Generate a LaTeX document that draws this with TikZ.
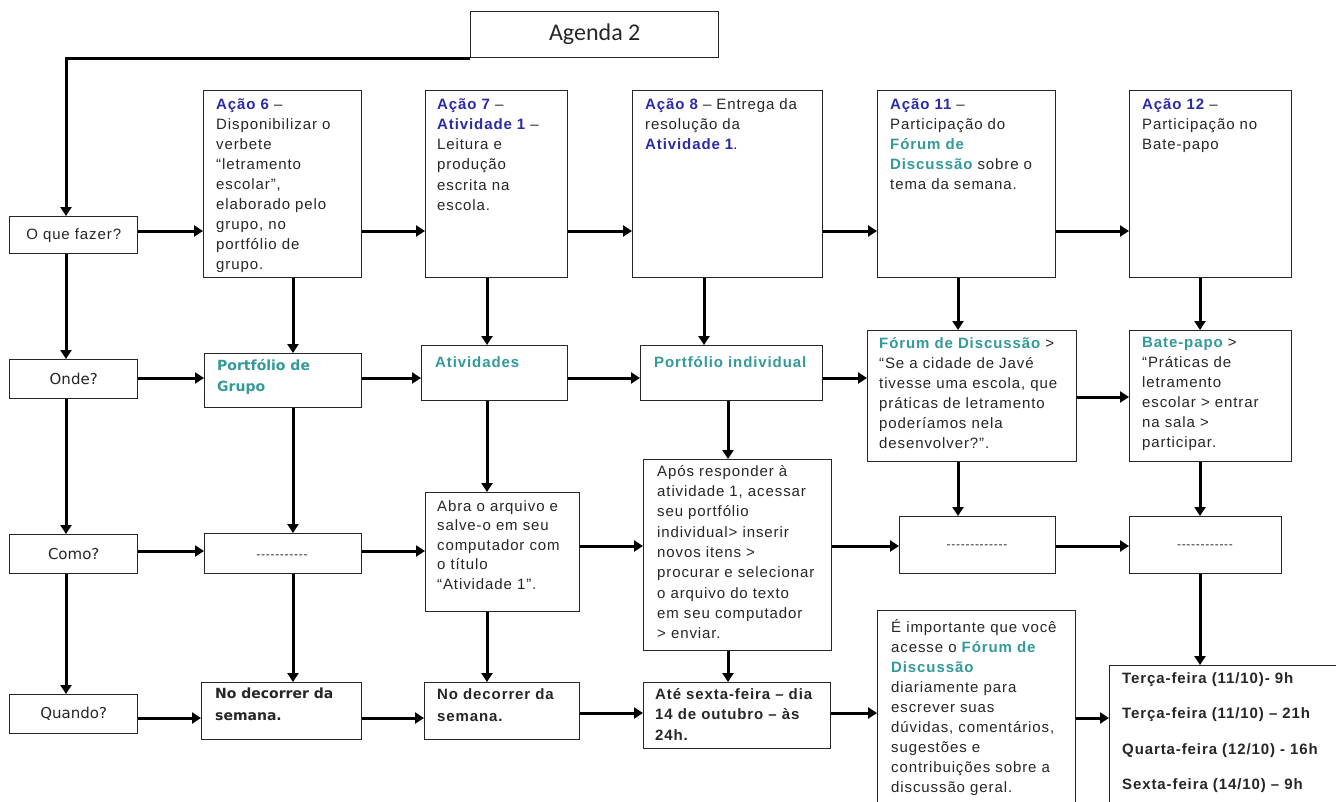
\documentclass[tikz,border=0pt]{standalone}
\usepackage{fontspec}
\setmainfont{Liberation Sans}
\newfontfamily\boxfont[LetterSpace=6]{Liberation Sans}
\newfontfamily\verdfont{DejaVu Sans}
\newfontfamily\titlefont{Carlito}
\usetikzlibrary{arrows.meta}
\definecolor{acao}{HTML}{2B2BA6}
\definecolor{ferr}{HTML}{339999}
\definecolor{ink}{HTML}{262626}
\newcommand\ac[1]{{\bfseries\color{acao}#1}}
\newcommand\tl[1]{{\bfseries\color{ferr}#1}}
\tikzset{
  box/.style={draw=black!85, line width=1.4pt, anchor=north west, inner sep=0pt, fill=white},
  qbox/.style={box, minimum width=128pt, minimum height=#1, font=\verdfont\fontsize{15}{18}\selectfont, text=ink},
  txt/.style={anchor=north west, inner sep=0pt, align=left, text=ink,
    font=\boxfont\fontsize{15}{#1}\selectfont, execute at begin node={\rule{0pt}{14pt}}},
  txt/.default=20,
  dashtext/.style={inner sep=0pt, font=\boxfont\fontsize{12}{14}\selectfont, text=ink},
  con/.style={line width=3pt, draw=black},
  arr/.style={con, -{Triangle[length=9pt,width=11pt]}},
}
\begin{document}
\begin{tikzpicture}[x=1pt, y=-1pt]
\useasboundingbox (0,0) rectangle (1336,801);
\fill[white] (0,0) rectangle (1336,801);
\clip (0,0) rectangle (1336,801);

% guide coordinates for the connector columns and rows
\coordinate (xL) at (66,0);
\coordinate (x6) at (293,0);
\coordinate (x7) at (487,0);
\coordinate (x8) at (704,0);
\coordinate (x8b) at (728,0);
\coordinate (x11) at (958,0);
\coordinate (x12) at (1200,0);
\coordinate (y1) at (0,231);
\coordinate (y2) at (0,378);
\coordinate (y2b) at (0,397);
\coordinate (y3) at (0,551);
\coordinate (y3b) at (0,546);
\coordinate (y4) at (0,718);
\coordinate (y4b) at (0,713);

% title
\node[box, minimum width=248pt, minimum height=46pt, font=\titlefont\fontsize{24}{28}\selectfont, text=ink] (ag) at (470,11) {Agenda 2};

% question column
\node[qbox=37pt, font=\boxfont\fontsize{15}{18}\selectfont] (oq) at (9,216) {O que fazer?};
\node[qbox=39pt] (on) at (9,359) {Onde?};
\node[qbox=39pt] (co) at (9,534) {Como?};
\node[qbox=39pt] (qu) at (9,694) {Quando?};

% row 1: actions
\node[box, minimum width=158pt, minimum height=187pt] (a6) at (203,90) {};
\node[box, minimum width=142pt, minimum height=187pt] (a7) at (425,90) {};
\node[box, minimum width=190pt, minimum height=187pt] (a8) at (632,90) {};
\node[box, minimum width=178pt, minimum height=187pt] (a11) at (877,90) {};
\node[box, minimum width=162pt, minimum height=187pt] (a12) at (1129,90) {};
\node[txt] (a6t) at (216,98) {\ac{Ação 6} –\\Disponibilizar o\\verbete\\“letramento\\escolar”,\\elaborado pelo\\grupo, no\\portfólio de\\grupo.};
\node[txt=20.3] (a7t) at (437,98) {\ac{Ação 7} –\\\ac{Atividade 1} –\\Leitura e\\produção\\escrita na\\escola.};
\node[txt] (a8t) at (645,98) {\ac{Ação 8} – Entrega da\\resolução da\\\ac{Atividade 1}.};
\node[txt] (a11t) at (890,98) {\ac{Ação 11} –\\Participação do\\\tl{Fórum de}\\\tl{Discussão} sobre o\\tema da semana.};
\node[txt] (a12t) at (1142,98) {\ac{Ação 12} –\\Participação no\\Bate-papo};

% row 2: where
\node[box, minimum width=157pt, minimum height=54pt] (pg) at (204,353) {};
\node[box, minimum width=146pt, minimum height=55pt] (at) at (421,345) {};
\node[box, minimum width=182pt, minimum height=55pt] (pi) at (640,345) {};
\node[box, minimum width=209pt, minimum height=131pt] (fd) at (867,330) {};
\node[box, minimum width=162pt, minimum height=131pt] (bp) at (1129,330) {};
\node[anchor=north west, inner sep=0pt, align=left, text=ferr, font=\verdfont\bfseries\fontsize{14}{21}\selectfont, execute at begin node={\rule{0pt}{14pt}}] (pgt) at (217,359) {Portfólio de\\Grupo};
\node[txt] (att) at (435,353) {\tl{Atividades}};
\node[txt] (pit) at (654,353) {\tl{Portfólio individual}};
\node[txt] (fdt) at (879,337) {\tl{Fórum de Discussão} >\\“Se a cidade de Javé\\tivesse uma escola, que\\práticas de letramento\\poderíamos nela\\desenvolver?”.};
\node[txt] (bpt) at (1142,337) {\tl{Bate-papo} >\\“Práticas de\\letramento\\escolar > entrar\\na sala >\\participar.};

% row 3: how
\node[box, minimum width=157pt, minimum height=40pt] (d1) at (204,533) {};
\node[box, minimum width=154pt, minimum height=119pt] (abra) at (425,492) {};
\node[box, minimum width=188pt, minimum height=191pt] (apos) at (643,459) {};
\node[box, minimum width=156pt, minimum height=57pt] (d2) at (899,516) {};
\node[box, minimum width=152pt, minimum height=57pt] (d3) at (1129,516) {};
\node[dashtext] (d1t) at (282,557) {-----------};
\node[dashtext] (d2t) at (977,547) {-------------};
\node[dashtext] (d3t) at (1205,547) {------------};
\node[txt=19.5] (abrat) at (437,500) {Abra o arquivo e\\salve-o em seu\\computador com\\o título\\“Atividade 1”.};
\node[txt=20.3] (apost) at (657,465) {Após responder à\\atividade 1, acessar\\seu portfólio\\individual> inserir\\novos itens >\\procurar e selecionar\\o arquivo do texto\\em seu computador\\> enviar.};

% row 4: when
\node[box, minimum width=160pt, minimum height=57pt] (nd1) at (201,682) {};
\node[box, minimum width=155pt, minimum height=57pt] (nd2) at (424,682) {};
\node[box, minimum width=187pt, minimum height=66pt] (ate) at (643,682) {};
\node[box, minimum width=198pt, minimum height=220pt] (imp) at (877,610) {};
\node[box, minimum width=260pt, minimum height=170pt] (tm) at (1109,665) {};
\node[anchor=north west, inner sep=0pt, align=left, text=ink, font=\verdfont\bfseries\fontsize{14}{22}\selectfont, execute at begin node={\rule{0pt}{14pt}}] (nd1t) at (215,688) {No decorrer da\\semana.};
\node[txt=22, font=\boxfont\bfseries\fontsize{15}{22}\selectfont] (nd2t) at (437,688) {No decorrer da\\semana.};
\node[txt=20.5, font=\boxfont\bfseries\fontsize{15}{20.5}\selectfont] (atet) at (655,688) {Até sexta-feira – dia\\14 de outubro – às\\24h.};
\node[txt] (impt) at (891,619) {É importante que você\\acesse o \tl{Fórum de}\\\tl{Discussão}\\diariamente para\\escrever suas\\dúvidas, comentários,\\sugestões e\\contribuições sobre a\\discussão geral.};
\node[txt, font=\boxfont\bfseries\fontsize{15}{20}\selectfont] (tmt) at (1122,672) {Terça-feira (11/10)- 9h\\[15.5pt]Terça-feira (11/10) – 21h\\[15.5pt]Quarta-feira (12/10) - 16h\\[15.5pt]Sexta-feira (14/10) – 9h};

% connectors: title and question column
\draw[arr] (ag.south west) -| (oq.north -| xL);
\draw[arr] (oq.south -| xL) -- (on.north -| xL);
\draw[arr] (on.south -| xL) -- (co.north -| xL);
\draw[arr] (co.south -| xL) -- (qu.north -| xL);

% row 1
\draw[arr] (oq.east |- y1) -- (a6.west |- y1);
\draw[arr] (a6.east |- y1) -- (a7.west |- y1);
\draw[arr] (a7.east |- y1) -- (a8.west |- y1);
\draw[arr] (a8.east |- y1) -- (a11.west |- y1);
\draw[arr] (a11.east |- y1) -- (a12.west |- y1);

% row 2
\draw[arr] (on.east |- y2) -- (pg.west |- y2);
\draw[arr] (pg.east |- y2) -- (at.west |- y2);
\draw[arr] (at.east |- y2) -- (pi.west |- y2);
\draw[arr] (pi.east |- y2) -- (fd.west |- y2);
\draw[arr] (fd.east |- y2b) -- (bp.west |- y2b);

% row 3
\draw[arr] (co.east |- y3) -- (d1.west |- y3);
\draw[arr] (d1.east |- y3) -- (abra.west |- y3);
\draw[arr] (abra.east |- y3b) -- (apos.west |- y3b);
\draw[arr] (apos.east |- y3b) -- (d2.west |- y3b);
\draw[arr] (d2.east |- y3b) -- (d3.west |- y3b);

% row 4
\draw[arr] (qu.east |- y4) -- (nd1.west |- y4);
\draw[arr] (nd1.east |- y4) -- (nd2.west |- y4);
\draw[arr] (nd2.east |- y4b) -- (ate.west |- y4b);
\draw[arr] (ate.east |- y4b) -- (imp.west |- y4b);
\draw[arr] (imp.east |- y4) -- (tm.west |- y4);

% columns
\draw[arr] (a6.south -| x6) -- (pg.north -| x6);
\draw[arr] (pg.south -| x6) -- (d1.north -| x6);
\draw[arr] (d1.south -| x6) -- (nd1.north -| x6);
\draw[arr] (a7.south -| x7) -- (at.north -| x7);
\draw[arr] (at.south -| x7) -- (abra.north -| x7);
\draw[arr] (abra.south -| x7) -- (nd2.north -| x7);
\draw[arr] (a8.south -| x8) -- (pi.north -| x8);
\draw[arr] (pi.south -| x8b) -- (apos.north -| x8b);
\draw[arr] (apos.south -| x8b) -- (ate.north -| x8b);
\draw[arr] (a11.south -| x11) -- (fd.north -| x11);
\draw[arr] (fd.south -| x11) -- (d2.north -| x11);
\draw[arr] (a12.south -| x12) -- (bp.north -| x12);
\draw[arr] (bp.south -| x12) -- (d3.north -| x12);
\draw[arr] (d3.south -| x12) -- (tm.north -| x12);
\end{tikzpicture}
\end{document}
